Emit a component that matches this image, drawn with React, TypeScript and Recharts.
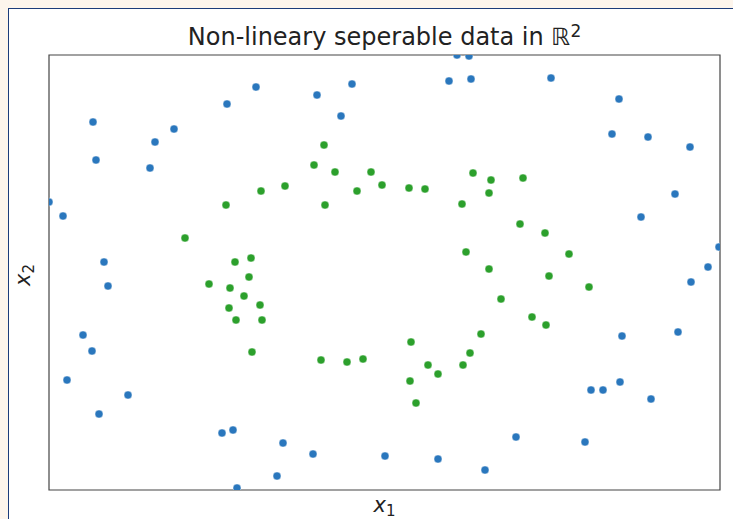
import { ScatterChart, Scatter, XAxis, YAxis, ReferenceArea } from 'recharts';

// outer ring (class 0)
const outerX = [
  -2.91, -2.88, -2.34, -2.29, -2.1, -1.57, -1.28, -0.67, -0.32, -0.43, 0.65, 0.87, 0.73, 0.85, 1.67,
  2.35, 2.28, 2.64, 3.06, 2.91, 2.57, 3.35, 3.24, 3.07, -3.35, -3.21, -2.8, -2.76, -3.01, -2.92,
  -3.17, -2.56, -2.85, -1.62, -1.51, -1.47, -1.01, -0.71, -1.07, 0.01, 0.54, 1.01, 1.32, 2.01, 2.07,
  2.19, 2.36, 2.67, 2.38, 2.94,
];
const outerY = [
  1.5, 1.12, 1.04, 1.3, 1.43, 1.68, 1.85, 1.77, 1.88, 1.56, 1.91, 1.93, 2.17, 2.16, 1.94,
  1.73, 1.38, 1.35, 1.25, 0.78, 0.55, 0.25, 0.05, -0.1, 0.7, 0.56, 0.1, -0.14, -0.63, -0.79,
  -1.08, -1.23, -1.42, -1.61, -1.58, -2.16, -1.71, -1.82, -2.04, -1.84, -1.87, -1.98, -1.65, -1.7, -1.18,
  -1.18, -1.1, -1.27, -0.64, -0.6,
];

// inner ring (class 1)
const innerX = [
  -1.58, -1.99, -1.49, -1.33, -1.35, -1.75, -1.54, -1.4, -1.55, -1.48, -1.24, -1.22, -1.32, -0.6, -0.7,
  -0.49, -0.13, -1.23, -0.99, -0.27, -0.02, 0.25, 0.41, -0.59, 0.89, 1.07, 1.05, 0.78, 0.82, 1.05,
  1.39, 1.36, 1.61, 1.85, 1.65, 2.05, 1.17, 1.48, 1.62, 0.97, 0.86, 0.79, 0.27, 0.44, 0.54,
  0.26, 0.32, -0.63, -0.37, -0.21,
];
const innerY = [
  0.67, 0.34, 0.1, 0.14, -0.05, -0.12, -0.16, -0.24, -0.36, -0.48, -0.33, -0.48, -0.8, 1.27, 1.07,
  1.0, 1.0, 0.81, 0.86, 0.81, 0.87, 0.84, 0.83, 0.67, 0.99, 0.92, 0.79, 0.68, 0.2, 0.03,
  0.94, 0.48, 0.39, 0.18, -0.04, -0.15, -0.27, -0.45, -0.53, -0.62, -0.81, -0.93, -0.7, -0.93, -1.02,
  -1.09, -1.31, -0.88, -0.9, -0.87,
];

const X_DOMAIN: [number, number] = [-3.35, 3.36];
const Y_DOMAIN: [number, number] = [-2.18, 2.17];

const outer = outerX.map((x, i) => ({ x, y: outerY[i] }));
const inner = innerX.map((x, i) => ({ x, y: innerY[i] }));

const dot = (color: string) => (props: any) =>
  <circle cx={props.cx} cy={props.cy} r={4} fill={color} stroke="#ffffff" strokeWidth={0.4} />;

const font = '"DejaVu Sans", sans-serif';

export default function App() {
  return (
    <>
      <style>{`body{margin:8px 0 0 8px;background:#fdf5ec;overflow:hidden}`}</style>
      <div
        style={{
          position: 'relative',
          width: 724,
          height: 510,
          background: '#ffffff',
          borderLeft: '1px solid #1c3c7a',
          borderTop: '1px solid #1c3c7a',
          fontFamily: font,
          color: '#222',
        }}
      >
        <div
          style={{
            position: 'absolute',
            left: 40,
            width: 671,
            top: 8,
            textAlign: 'center',
            fontSize: 24,
            lineHeight: '28px',
            whiteSpace: 'nowrap',
          }}
        >
          Non-lineary seperable data in <span style={{ fontStyle: 'italic' }}>ℝ</span>
          <sup style={{ fontSize: 17, verticalAlign: 8 }}>2</sup>
        </div>
        <div
          style={{
            position: 'absolute',
            left: 40,
            width: 671,
            top: 484,
            textAlign: 'center',
            fontSize: 21,
            lineHeight: '24px',
            fontStyle: 'italic',
          }}
        >
          x<sub style={{ fontSize: 15, fontStyle: 'normal', verticalAlign: -4 }}>1</sub>
        </div>
        <div
          style={{
            position: 'absolute',
            left: 17 - 30,
            top: 263 - 12,
            width: 60,
            textAlign: 'center',
            fontSize: 21,
            lineHeight: '24px',
            fontStyle: 'italic',
            transform: 'rotate(-90deg)',
          }}
        >
          x<sub style={{ fontSize: 15, fontStyle: 'normal', verticalAlign: -4 }}>2</sub>
        </div>
        <ScatterChart width={724} height={510} margin={{ top: 46, right: 13, bottom: 29, left: 40 }}>
          <XAxis type="number" dataKey="x" domain={X_DOMAIN} hide allowDataOverflow />
          <YAxis type="number" dataKey="y" domain={Y_DOMAIN} hide allowDataOverflow />
          <ReferenceArea
            x1={X_DOMAIN[0]}
            x2={X_DOMAIN[1]}
            y1={Y_DOMAIN[0]}
            y2={Y_DOMAIN[1]}
            fill="none"
            stroke="#444"
            strokeWidth={1.2}
            ifOverflow="visible"
          />
          <Scatter data={outer} fill="#1f77b4" shape={dot('#2a77bd')} isAnimationActive={false} />
          <Scatter data={inner} fill="#2ca02c" shape={dot('#2ca02c')} isAnimationActive={false} />
        </ScatterChart>
      </div>
    </>
  );
}
